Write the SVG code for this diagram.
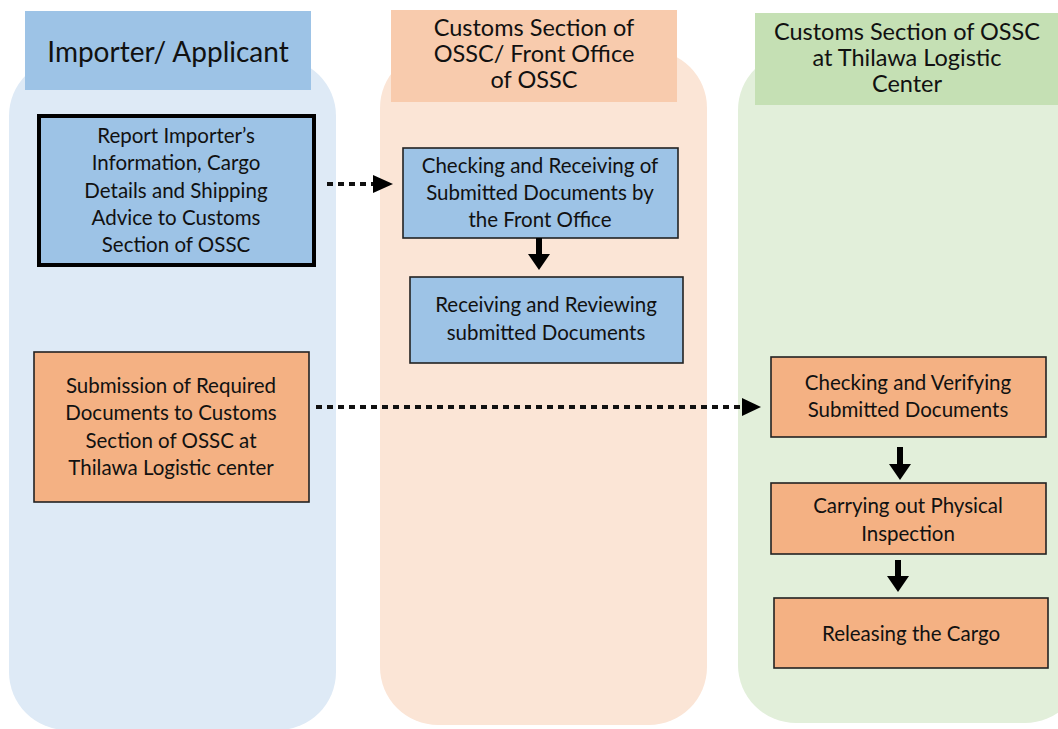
<svg xmlns="http://www.w3.org/2000/svg" width="1058" height="729" viewBox="0 0 1058 729">
<defs>
<style>
text{font-family:Lato,"Open Sans","Liberation Sans",sans-serif;fill:#111;text-anchor:middle}
.t{font-size:20.5px}
.h{font-size:23.5px}
.box{stroke:#222;stroke-width:1.6}
.blue{fill:#9DC3E6}
.orange{fill:#F4B183}
.dash{stroke:#111;stroke-width:4;stroke-dasharray:6 5;fill:none}
.down{fill:#000}
</style>
</defs>
<g id="lanes">
<rect x="9" y="58" width="327" height="672" rx="58" fill="#DEEAF6"/>
<rect x="380" y="50" width="327" height="675" rx="58" fill="#FBE5D6"/>
<rect x="738" y="52" width="345" height="671" rx="58" fill="#E2EFDA"/>
</g>
<g id="header-importer">
<rect x="25" y="11" width="286" height="79" fill="#9DC3E6"/>
<text x="168" y="62" style="font-size:28px">Importer/ Applicant</text>
</g>
<g id="header-front-office">
<rect x="391" y="10" width="286" height="92" fill="#F8CBAD"/>
<text class="h" x="534" y="36">Customs Section of</text>
<text class="h" x="534" y="62">OSSC/ Front Office</text>
<text class="h" x="534" y="88">of OSSC</text>
</g>
<g id="header-thilawa">
<rect x="755" y="13" width="310" height="92" fill="#C5E0B4"/>
<text class="h" x="907" y="40">Customs Section of OSSC</text>
<text class="h" x="907" y="66">at Thilawa Logistic</text>
<text class="h" x="907" y="92">Center</text>
</g>
<g id="node-report">
<rect x="39" y="116" width="275" height="149" class="blue" stroke="#000" stroke-width="4"/>
<text class="t" x="176" y="143">Report Importer’s</text>
<text class="t" x="176" y="170">Information, Cargo</text>
<text class="t" x="176" y="198">Details and Shipping</text>
<text class="t" x="176" y="225">Advice to Customs</text>
<text class="t" x="176" y="252">Section of OSSC</text>
</g>
<g id="node-checking-receiving">
<rect x="403" y="148" width="275" height="90" class="box blue"/>
<text class="t" x="540" y="173">Checking and Receiving of</text>
<text class="t" x="540" y="200">Submitted Documents by</text>
<text class="t" x="540" y="227">the Front Office</text>
</g>
<g id="node-receiving-reviewing">
<rect x="410" y="277" width="273" height="86" class="box blue"/>
<text class="t" x="546" y="312">Receiving and Reviewing</text>
<text class="t" x="546" y="340">submitted Documents</text>
</g>
<g id="node-submission">
<rect x="34" y="352" width="275" height="150" class="box orange"/>
<text class="t" x="171" y="393">Submission of Required</text>
<text class="t" x="171" y="420">Documents to Customs</text>
<text class="t" x="171" y="448">Section of OSSC at</text>
<text class="t" x="171" y="475">Thilawa Logistic center</text>
</g>
<g id="node-checking-verifying">
<rect x="771" y="357" width="275" height="80" class="box orange"/>
<text class="t" x="908" y="390">Checking and Verifying</text>
<text class="t" x="908" y="417">Submitted Documents</text>
</g>
<g id="node-inspection">
<rect x="771" y="483" width="275" height="71" class="box orange"/>
<text class="t" x="908" y="513">Carrying out Physical</text>
<text class="t" x="908" y="541">Inspection</text>
</g>
<g id="node-releasing">
<rect x="774" y="598" width="274" height="70" class="box orange"/>
<text class="t" x="911" y="641">Releasing the Cargo</text>
</g>
<g id="connectors">
<line class="dash" x1="327" y1="184" x2="373" y2="184"/>
<polygon points="373,175 393,184 373,193" fill="#000"/>
<line class="dash" x1="316" y1="407" x2="742" y2="407"/>
<polygon points="742,398 761,407 742,416" fill="#000"/>
<path class="down" d="M536,238 h6 v16 h8 l-11,16 l-11,-16 h8 z"/>
<path class="down" d="M897,447 h6 v17 h8 l-11,16 l-11,-16 h8 z"/>
<path class="down" d="M895,560 h6 v16 h8 l-11,16 l-11,-16 h8 z"/>
</g>
</svg>
